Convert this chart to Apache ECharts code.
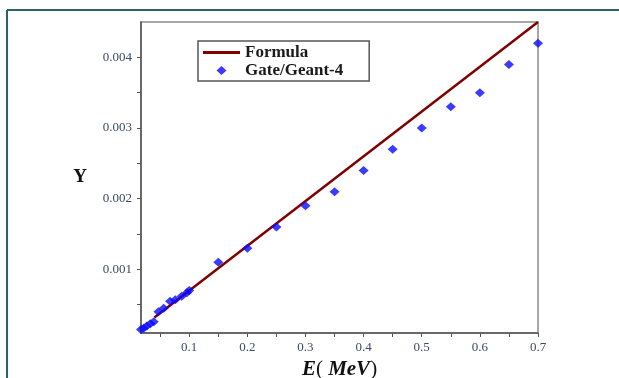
<!DOCTYPE html>
<html>
<head>
<meta charset="utf-8">
<script src="https://cdn.jsdelivr.net/npm/echarts@6/dist/echarts.min.js"></script>
<style>html,body{margin:0;padding:0;background:#fff;}#c{width:619px;height:378px;}</style>
</head>
<body>
<div id="c"></div>
<script>
// Gate/Geant-4 simulated points
const gateE = [0.017, 0.022, 0.027, 0.033, 0.039, 0.047, 0.056, 0.067, 0.076, 0.087, 0.096, 0.1, 0.15, 0.2, 0.25, 0.3, 0.35, 0.4, 0.45, 0.5, 0.55, 0.6, 0.65, 0.7];
const gateY = [0.00015, 0.00017, 0.0002, 0.00023, 0.00026, 0.0004, 0.00045, 0.00055, 0.00057, 0.00062, 0.00067, 0.0007, 0.0011, 0.0013, 0.0016, 0.0019, 0.0021, 0.0024, 0.0027, 0.003, 0.0033, 0.0035, 0.0039, 0.0042];
// Formula line (read endpoints)
const formulaE = [0.04, 0.7];
const formulaY = [0.00032, 0.0045];
const xTickLabels = ['0.1', '0.2', '0.3', '0.4', '0.5', '0.6', '0.7'];
const yTickLabels = ['0.001', '0.002', '0.003', '0.004'];

const serif = '"Liberation Serif", "DejaVu Serif", serif';
const labelColor = '#3b4a66';

const chart = echarts.init(document.getElementById('c'));
chart.setOption({
  animation: false,
  backgroundColor: '#fff',
  grid: {
    left: 141, top: 22, right: 81, bottom: 45,
    containLabel: false, outerBoundsMode: 'none',
    show: true, borderColor: '#8a8a8a', borderWidth: 1.5, backgroundColor: 'transparent'
  },
  legend: {
    orient: 'vertical',
    left: 198, top: 41,
    padding: [3, 26, 2, 5],
    borderColor: '#555', borderWidth: 1.5,
    itemWidth: 37, itemHeight: 9, itemGap: 1,
    textStyle: { fontFamily: serif, fontWeight: 'bold', fontSize: 17, color: '#1a1a1a' },
    data: [
      { name: 'Formula', icon: 'path://M0,0 L37,0 L37,3 L0,3 Z', itemStyle: { color: '#800000' } },
      { name: 'Gate/Geant-4', icon: 'path://M5,0 L10,4.5 L5,9 L0,4.5 Z' }
    ]
  },
  xAxis: {
    type: 'value', min: 0.017, max: 0.7, splitNumber: 14,
    name: '{i|E}{n|( }{i|MeV}{n|)}',
    nameLocation: 'middle', nameGap: 17,
    nameTextStyle: {
      rich: {
        i: { fontFamily: serif, fontWeight: 'bold', fontStyle: 'italic', fontSize: 21, color: '#111' },
        n: { fontFamily: serif, fontWeight: 'normal', fontSize: 21, color: '#111' }
      }
    },
    axisLine: { show: true, onZero: false, lineStyle: { color: '#555', width: 1.5 } },
    axisTick: { show: true, length: 4, lineStyle: { color: '#555' } },
    splitLine: { show: false },
    axisLabel: {
      showMinLabel: false, margin: 8,
      fontFamily: serif, fontSize: 13, color: labelColor,
      formatter: function (v) {
        const s = v.toFixed(1);
        return (Math.abs(v * 10 - Math.round(v * 10)) < 1e-6 && xTickLabels.indexOf(s) >= 0) ? s : '';
      }
    }
  },
  yAxis: {
    type: 'value', min: 0.0001, max: 0.0045, splitNumber: 9,
    name: 'Y', nameLocation: 'middle', nameGap: 54, nameRotate: 0,
    nameTextStyle: { fontFamily: serif, fontWeight: 'bold', fontSize: 19, color: '#111' },
    axisLine: { show: true, onZero: false, lineStyle: { color: '#555', width: 1.5 } },
    axisTick: { show: true, length: 4, lineStyle: { color: '#555' } },
    splitLine: { show: false },
    axisLabel: {
      showMinLabel: false, showMaxLabel: false, margin: 9,
      fontFamily: serif, fontSize: 13, color: labelColor,
      formatter: function (v) {
        const s = v.toFixed(3);
        return (Math.abs(v * 1000 - Math.round(v * 1000)) < 1e-6 && yTickLabels.indexOf(s) >= 0) ? s : '';
      }
    }
  },
  series: [
    {
      name: 'Formula', type: 'line', symbol: 'none',
      lineStyle: { color: '#800000', width: 2.5 },
      itemStyle: { color: '#800000' },
      data: formulaE.map((e, i) => [e, formulaY[i]]),
      z: 2
    },
    {
      name: 'Gate/Geant-4', type: 'scatter', symbol: 'diamond', symbolSize: [10, 9],
      itemStyle: { color: '#0a0aff' },
      data: gateE.map((e, i) => [e, gateY[i]]),
      z: 3
    }
  ],
  graphic: [
    { type: 'line', shape: { x1: 7, y1: 10, x2: 619, y2: 10 }, style: { stroke: '#2b6466', lineWidth: 2 } },
    { type: 'line', shape: { x1: 7, y1: 10, x2: 7, y2: 378 }, style: { stroke: '#2b6466', lineWidth: 2 } }
  ]
});
</script>
</body>
</html>
